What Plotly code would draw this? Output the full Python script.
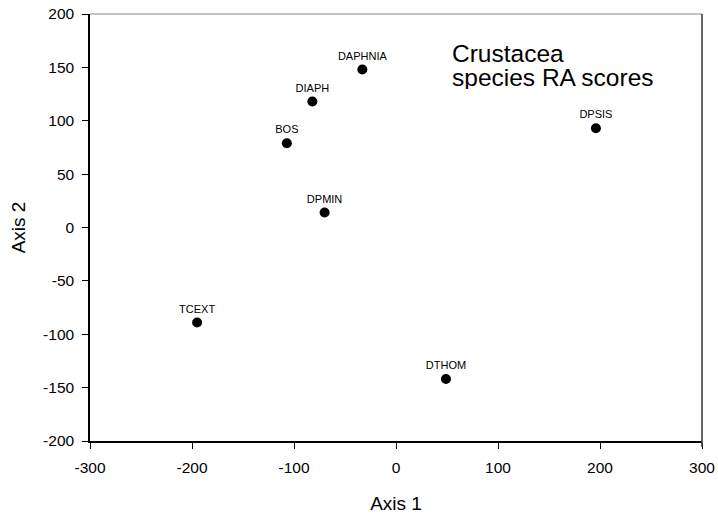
import plotly.graph_objects as go

species = ["DAPHNIA", "DIAPH", "BOS", "DPMIN", "DPSIS", "TCEXT", "DTHOM"]
axis1 = [-33, -82, -107, -70, 196, -195, 49]
axis2 = [148, 118, 79, 14, 93, -89, -142]

x_ticks = [-300, -200, -100, 0, 100, 200, 300]
x_tick_labels = ["-300", "-200", "-100", "0", "100", "200", "300"]
y_ticks = [-200, -150, -100, -50, 0, 50, 100, 150, 200]
y_tick_labels = ["-200", "-150", "-100", "-50", "0", "50", "100", "150", "200"]

title_lines = ["Crustacea", "species RA scores"]

FONT = "Arial, 'Liberation Sans', sans-serif"

fig = go.Figure()
fig.add_trace(go.Scatter(
    x=axis1, y=axis2, mode="markers+text", text=species,
    textposition="top center",
    textfont=dict(family=FONT, size=11, color="black"),
    marker=dict(size=10, color="black"),
    showlegend=False, hoverinfo="x+y+text",
))

fig.update_layout(
    width=718, height=516,
    margin=dict(l=90, r=16, t=14, b=75),
    paper_bgcolor="white", plot_bgcolor="white",
    font=dict(family=FONT, color="black"),
    xaxis=dict(
        range=[-300, 300], tickvals=x_ticks, ticktext=x_tick_labels,
        ticks="outside", ticklen=6,
        tickwidth=1, tickcolor="black", showgrid=False, zeroline=False,
        showline=True, linecolor="black", linewidth=1.5,
        tickfont=dict(size=15.5), ticklabelstandoff=6,
        title=dict(text="Axis 1", font=dict(size=19), standoff=21),
        automargin=False,
    ),
    yaxis=dict(
        range=[-200, 200], tickvals=y_ticks, ticktext=y_tick_labels,
        ticks="outside", ticklen=6,
        tickwidth=1, tickcolor="black", showgrid=False, zeroline=False,
        showline=True, linecolor="black", linewidth=1.5,
        tickfont=dict(size=15.5), ticklabelstandoff=5,
        title=dict(text="Axis 2", font=dict(size=19), standoff=12),
        automargin=False,
    ),
)

# top and right frame lines
fig.add_shape(type="line", xref="x domain", yref="y domain", x0=0, x1=1, y0=1, y1=1,
              line=dict(color="#888888", width=1))
fig.add_shape(type="line", xref="x domain", yref="y domain", x0=1, x1=1, y0=-0.014, y1=1,
              line=dict(color="#333333", width=1.5))

for i, line in enumerate(title_lines):
    fig.add_annotation(text=line, xref="paper", yref="paper",
                       x=0.589, y=0.9087 - i * 0.0562,
                       xanchor="left", yanchor="middle", showarrow=False,
                       height=24,
                       font=dict(family=FONT, size=24.5, color="black"))

fig.write_html("out.html", config={"displayModeBar": False},
               post_script="document.body.style.margin='0';")
